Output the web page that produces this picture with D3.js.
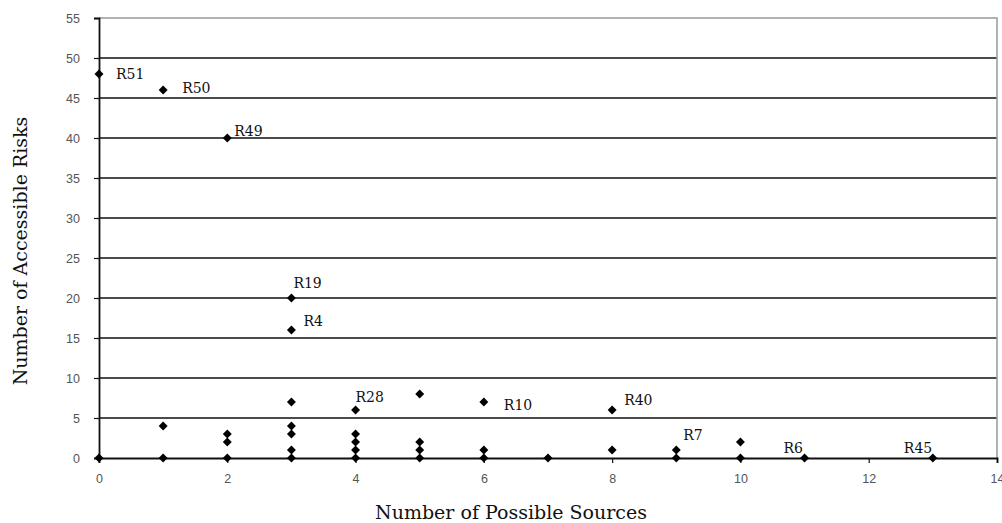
<!DOCTYPE html>
<html>
<head>
<meta charset="utf-8">
<script src="https://cdn.jsdelivr.net/npm/d3@7"></script>
<style>
  body { margin: 0; background: #fff; }
  svg { display: block; }
</style>
</head>
<body>
<svg id="chart" width="1002" height="523"></svg>
<script>
// data
var sources = [0, 0, 1, 1, 1, 2, 2, 2, 2, 3, 3, 3, 3, 3, 3, 3, 4, 4, 4, 4, 4, 5, 5, 5, 5, 6, 6, 6, 7, 8, 8, 9, 9, 10, 10, 11, 13];
var risks   = [48, 0, 46, 4, 0, 40, 3, 2, 0, 20, 16, 7, 4, 3, 1, 0, 6, 3, 2, 1, 0, 8, 2, 1, 0, 7, 1, 0, 0, 6, 1, 1, 0, 2, 0, 0, 0];

var labelNames   = ["R51", "R50", "R49", "R19", "R4", "R28", "R10", "R40", "R7", "R6", "R45"];
var labelSources = [0, 1, 2, 3, 3, 4, 6, 8, 9, 11, 13];
var labelRisks   = [48, 46, 40, 20, 16, 6, 7, 6, 1, 0, 0];

var xTicks = [0, 2, 4, 6, 8, 10, 12, 14];
var yTicks = [0, 5, 10, 15, 20, 25, 30, 35, 40, 45, 50, 55];

// label offsets from their point, in px
var labelShift = {
    "R51": [17, 5], "R50": [19, 3], "R49": [7, -2], "R19": [2, -10],
    "R4": [12, -4], "R28": [0, -8], "R10": [20, 8], "R40": [12, -5],
    "R7": [7, -10], "R6": [-21, -5], "R45": [-29, -5]
};

var margin = {top: 18, right: 5, bottom: 65, left: 99};
var width = 1002 - margin.left - margin.right;
var height = 523 - margin.top - margin.bottom;

var svg = d3.select('#chart');
var g = svg.append('g')
    .attr('transform', 'translate(' + margin.left + ',' + margin.top + ')');

var x = d3.scaleLinear().domain([0, 14]).range([0, width]);
var y = d3.scaleLinear().domain([0, 55]).range([height, 0]);

// gridlines
g.selectAll('.grid')
    .data(yTicks.slice(1, -1))
    .enter()
    .append('line')
    .attr('x1', 0)
    .attr('x2', width)
    .attr('y1', d => y(d))
    .attr('y2', d => y(d))
    .style('stroke', '#111')
    .style('stroke-width', 1.6);

// plot frame (top and right, grey)
g.append('path')
    .attr('d', 'M0,' + y(55) + 'H' + x(14) + 'V' + y(0))
    .style('fill', 'none')
    .style('stroke', '#999')
    .style('stroke-width', 1.5);

// X axis
var xAxis = d3.axisBottom(x).tickValues(xTicks).tickSize(5).tickPadding(11);
g.append('g')
    .attr('transform', 'translate(0,' + height + ')')
    .call(xAxis)
    .call(a => a.select('.domain').attr('stroke', '#111').attr('stroke-width', 1.8))
    .call(a => a.selectAll('.tick line').attr('stroke', '#111').attr('stroke-width', 1.2))
    .call(a => a.selectAll('.tick text')
        .style('font-family', 'Liberation Sans, Arial, sans-serif')
        .style('font-size', '12.5px')
        .style('fill', '#555'));

// Y axis
var yAxis = d3.axisLeft(y).tickValues(yTicks).tickSize(5).tickPadding(14);
g.append('g')
    .call(yAxis)
    .call(a => a.select('.domain').attr('stroke', '#111').attr('stroke-width', 1.8))
    .call(a => a.selectAll('.tick line').attr('stroke', '#111').attr('stroke-width', 1.2))
    .call(a => a.selectAll('.tick text')
        .style('font-family', 'Liberation Sans, Arial, sans-serif')
        .style('font-size', '12.5px')
        .style('fill', '#555'));

// points
var diamond = d3.symbol().type(d3.symbolSquare).size(40);
g.selectAll('.pt')
    .data(sources.map((s, i) => ({s: s, r: risks[i]})))
    .enter()
    .append('path')
    .attr('d', diamond)
    .attr('transform', d => 'translate(' + x(d.s) + ',' + y(d.r) + ') rotate(45)')
    .style('fill', '#000');

// point labels
g.selectAll('.lbl')
    .data(labelNames)
    .enter()
    .append('text')
    .attr('x', (d, i) => x(labelSources[i]) + labelShift[d][0])
    .attr('y', (d, i) => y(labelRisks[i]) + labelShift[d][1])
    .text(d => d)
    .style('font-family', 'DejaVu Serif, serif')
    .style('font-size', '14px')
    .style('fill', '#111');

// axis titles
svg.append('text')
    .attr('x', 511)
    .attr('y', 519)
    .attr('text-anchor', 'middle')
    .text('Number of Possible Sources')
    .style('font-family', 'DejaVu Serif, serif')
    .style('font-size', '19px')
    .style('fill', '#111');

svg.append('text')
    .attr('transform', 'translate(27,251) rotate(-90)')
    .attr('text-anchor', 'middle')
    .text('Number of Accessible Risks')
    .style('font-family', 'DejaVu Serif, serif')
    .style('font-size', '19px')
    .style('fill', '#111');
</script>
</body>
</html>
